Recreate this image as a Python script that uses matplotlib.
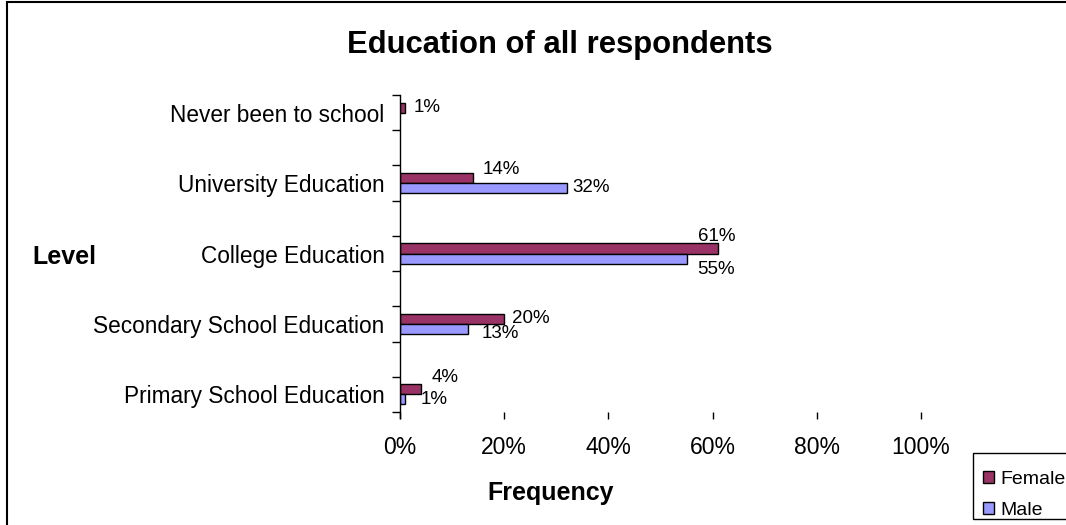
import matplotlib
matplotlib.use("Agg")
import matplotlib.pyplot as plt
from matplotlib.patches import Rectangle
from matplotlib.ticker import FixedLocator, FuncFormatter

plt.rcParams['font.family'] = ['Liberation Sans', 'DejaVu Sans']

categories = ["Primary School Education", "Secondary School Education",
              "College Education", "University Education", "Never been to school"]
female = [4, 20, 61, 14, 1]
male = [1, 13, 55, 32, 0]
female_labels = ["4%", "20%", "61%", "14%", "1%"]
male_labels = ["1%", "13%", "55%", "32%", ""]
x_ticks = [0, 20, 40, 60, 80, 100]

# label offsets (pixels, x right / y down) relative to bar end / bar centre
female_off = [(11, -12), (8, 0), (-20, -12), (10, -9), (8, 0)]
male_off = [(15, 0), (14, 5), (11, 11), (6, -1), (0, 0)]

W, H = 1066, 525
fig = plt.figure(figsize=(W / 100, H / 100), dpi=100)
ax = fig.add_axes([400 / W, 1 - 412 / H, (921 - 400) / W, (412 - 95) / H])

centers = [0.5 + 2 * i for i in range(len(categories))]
bh = 0.284
fcol = "#993366"
mcol = "#9999FF"
fb = ax.barh([c + bh / 2 for c in centers], female, height=bh, color=fcol,
             edgecolor="black", linewidth=1.0, label="Female")
mvals = [m if m > 0 else float('nan') for m in male]
mb = ax.barh([c - bh / 2 for c in centers], mvals, height=bh, color=mcol,
             edgecolor="black", linewidth=1.0, label="Male")

lab_fs = 13.5
for i, c in enumerate(centers):
    dx, dy = female_off[i]
    ax.annotate(female_labels[i], (female[i], c + bh / 2),
                xytext=(dx, -dy), textcoords="offset pixels",
                ha="left", va="center", fontsize=lab_fs)
    if male_labels[i]:
        dx, dy = male_off[i]
        ax.annotate(male_labels[i], (male[i], c - bh / 2),
                    xytext=(dx, -dy), textcoords="offset pixels",
                    ha="left", va="center", fontsize=lab_fs)

ax.set_xlim(0, 100)
ax.set_ylim(0, 9)
ax.xaxis.set_major_locator(FixedLocator(x_ticks))
ax.xaxis.set_major_formatter(FuncFormatter(lambda v, p: f"{v:.0f}%"))
ax.tick_params(axis="x", length=5, width=1, pad=12, labelsize=16.5, direction="out")
ax.yaxis.set_major_locator(FixedLocator(list(range(10))))
ax.yaxis.set_major_formatter(FuncFormatter(lambda v, p: ""))
ax.yaxis.set_minor_locator(FixedLocator(centers))
ax.set_yticklabels(categories, minor=True)
ax.tick_params(axis="y", which="major", length=6, width=1, direction="out")
ax.tick_params(axis="y", which="minor", length=0, pad=11, labelsize=16.3)

for s in ["top", "right", "bottom"]:
    ax.spines[s].set_visible(False)
ax.spines["left"].set_linewidth(1.0)
ax.spines["left"].set_bounds(-0.17, 9)
ax.set_facecolor("none")

fig.text(560 / W, 1 - 45 / H, "Education of all respondents", ha="center",
         va="center", fontsize=22.3, fontweight="bold")
fig.text(64 / W, 1 - 257 / H, "Level", ha="center", va="center",
         fontsize=18, fontweight="bold")
fig.text(551 / W, 1 - 493 / H, "Frequency", ha="center", va="center",
         fontsize=18, fontweight="bold")

# outer chart border
fig.patches.append(Rectangle((7 / W, -0.05), 1.2, 1.05 - 2 / H, transform=fig.transFigure,
                             fill=False, edgecolor="black", linewidth=1.5))
# legend frame
fig.patches.append(Rectangle((973 / W, 1 - 519 / H), 0.2, (519 - 453) / H,
                             transform=fig.transFigure, fill=False,
                             edgecolor="black", linewidth=1.0))

leg = fig.legend(handles=[fb, mb], labels=["Female", "Male"],
                 loc="upper left", bbox_to_anchor=(983 / W, 1 - 471 / H),
                 fontsize=14, frameon=False,
                 handlelength=0.55, handleheight=0.55, handletextpad=0.35,
                 labelspacing=0.72, borderpad=0.0, borderaxespad=0)

fig.savefig("out.png", dpi=100)
